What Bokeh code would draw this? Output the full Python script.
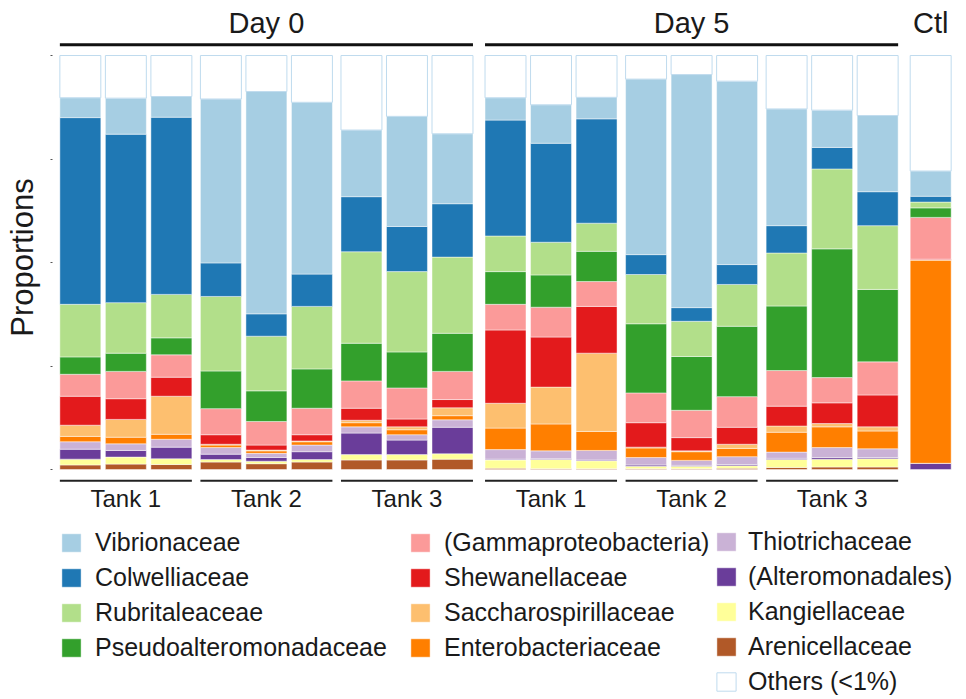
import math
from bokeh.plotting import figure
from bokeh.models import ColumnDataSource, FactorRange, Range1d, FixedTicker, Legend, LegendItem
from bokeh.core.properties import value
from bokeh.embed import file_html
from bokeh.resources import INLINE

# ---------------- data ----------------
days = ["Day 0", "Day 5"]
tanks = ["Tank 1", "Tank 2", "Tank 3"]
reps = ["1", "2", "3"]
control = "Ctl"

# stacking order: bottom -> top
families = ["Arenicellaceae", "Kangiellaceae", "(Alteromonadales)", "Thiotrichaceae",
            "Enterobacteriaceae", "Saccharospirillaceae", "Shewanellaceae",
            "(Gammaproteobacteria)", "Pseudoalteromonadaceae", "Rubritaleaceae",
            "Colwelliaceae", "Vibrionaceae", "Others (<1%)"]
fill_colors = ["#B15928", "#FFFF99", "#6A3D9A", "#CAB2D6", "#FF7F00", "#FDBF6F", "#E31A1C",
               "#FB9A99", "#33A02C", "#B2DF8A", "#1F78B4", "#A6CEE3", "#FFFFFF"]

# percentages, 19 samples: Day0 T1(3) T2(3) T3(3), Day5 T1(3) T2(3) T3(3), Ctl
arenicellaceae = [1.1, 1.3, 1.2, 1.8, 1.4, 1.8, 2.3, 2.3, 2.5, 0.3, 0.2, 0.2, 0.2, 0.2, 0.3, 0.5, 0.6, 0.6, 0.0]
kangiellaceae = [1.4, 1.7, 1.4, 0.6, 0.6, 0.6, 1.3, 1.3, 1.3, 2.0, 2.2, 1.9, 0.6, 0.6, 0.6, 1.9, 1.9, 2.0, 0.0]
alteromonadales = [2.4, 1.6, 2.8, 1.3, 0.9, 1.9, 5.2, 3.5, 6.4, 0.2, 0.2, 0.2, 0.3, 0.2, 0.3, 0.3, 0.4, 0.3, 1.5]
thiotrichaceae = [1.8, 1.6, 1.9, 1.6, 1.0, 1.6, 1.5, 1.3, 1.8, 2.3, 1.9, 2.3, 1.8, 1.2, 1.9, 1.5, 2.4, 2.1, 0.0]
enterobacteriaceae = [1.3, 1.6, 1.2, 0.6, 0.6, 0.8, 1.0, 1.2, 1.0, 5.2, 6.5, 4.6, 2.3, 2.1, 2.0, 4.8, 5.0, 4.3, 49.1]
saccharospirillaceae = [2.7, 4.3, 9.2, 0.2, 0.2, 0.2, 0.6, 0.7, 1.9, 6.0, 8.9, 18.9, 0.2, 0.2, 1.0, 1.5, 0.8, 1.0, 0.0]
shewanellaceae = [7.0, 5.0, 4.6, 2.3, 1.2, 1.5, 2.9, 1.9, 2.0, 17.7, 12.1, 11.3, 5.9, 3.2, 4.1, 4.8, 5.0, 7.7, 0.2]
gammaproteobacteria = [5.3, 6.6, 5.4, 6.3, 5.7, 6.4, 6.6, 7.5, 6.8, 6.2, 7.2, 6.0, 7.2, 6.6, 7.4, 8.6, 6.1, 8.0, 10.1]
pseudoalteromonadaceae = [4.2, 4.4, 4.1, 9.1, 7.4, 9.5, 9.1, 8.7, 9.2, 7.9, 7.8, 7.3, 16.7, 13.0, 17.0, 15.6, 31.1, 17.5, 2.3]
rubritaleaceae = [12.7, 12.2, 10.5, 18.0, 13.2, 15.1, 22.1, 19.4, 18.4, 8.6, 7.9, 6.8, 11.9, 8.5, 10.1, 12.8, 19.3, 15.4, 1.4]
colwelliaceae = [45.1, 40.7, 42.8, 8.1, 5.4, 7.8, 13.3, 10.9, 12.9, 28.0, 23.9, 25.2, 4.8, 3.3, 4.8, 6.6, 5.2, 8.2, 1.4]
vibrionaceae = [4.8, 8.7, 5.0, 39.6, 53.7, 41.5, 16.1, 26.6, 16.9, 5.4, 9.3, 5.2, 42.4, 56.3, 44.3, 28.2, 9.0, 18.4, 6.1]
others = [10.2, 10.3, 9.9, 10.5, 8.7, 11.3, 18.0, 14.7, 18.9, 10.2, 11.9, 10.1, 5.7, 4.6, 6.2, 12.9, 13.2, 14.5, 27.9]

series = [arenicellaceae, kangiellaceae, alteromonadales, thiotrichaceae, enterobacteriaceae,
          saccharospirillaceae, shewanellaceae, gammaproteobacteria, pseudoalteromonadaceae,
          rubritaleaceae, colwelliaceae, vibrionaceae, others]

y_ticks = [0, 25, 50, 75, 100]
y_label = "Proportions"

# legend columns (top -> bottom)
legend_cols = [
    ["Vibrionaceae", "Colwelliaceae", "Rubritaleaceae", "Pseudoalteromonadaceae"],
    ["(Gammaproteobacteria)", "Shewanellaceae", "Saccharospirillaceae", "Enterobacteriaceae"],
    ["Thiotrichaceae", "(Alteromonadales)", "Kangiellaceae", "Arenicellaceae", "Others (<1%)"],
]

# ---------------- figure ----------------
FONT = "Liberation Sans"
label_slot = (" ", " ", " ")          # empty slot on the left that holds the y-axis title
factors = [(d, t, r) for d in days for t in tanks for r in reps] + [(control, control, "1")]

data = {"x": factors}
for name, vals in zip(families, series):
    data[name] = vals
src = ColumnDataSource(data)

p = figure(width=966, height=699,
           x_range=FactorRange(*([label_slot] + factors), factor_padding=0.0,
                               subgroup_padding=0.088, group_padding=0.165,
                               range_padding=0.0892, range_padding_units="absolute"),
           y_range=Range1d(-55.56, 113.29),
           x_axis_location=None,
           output_backend="svg", toolbar_location=None,
           min_border_left=0, min_border_right=9, min_border_top=0, min_border_bottom=0)
p.grid.visible = False
p.outline_line_color = None
p.background_fill_color = "white"

line_colors = ["white"] * 12 + ["#BFDBEE"]
line_alphas = [0.45] * 12 + [1.0]
renderers = p.vbar_stack(families, x="x", width=0.9, source=src,
                         fill_color=fill_colors, line_color=line_colors,
                         line_alpha=line_alphas, line_width=1)
rmap = dict(zip(families, renderers))

# y axis: ticks only (drawn a little right of the frame edge)
p.yaxis.ticker = FixedTicker(ticks=y_ticks)
p.yaxis.axis_line_color = None
p.yaxis.major_tick_out = -50
p.yaxis.major_tick_in = 52
p.yaxis.major_tick_line_color = "#555555"
p.yaxis.minor_tick_line_color = None
p.yaxis.major_label_overrides = {t: "" for t in y_ticks}
p.yaxis.major_label_standoff = 0

# y-axis title
p.text(x=[label_slot + (-0.11,)], y=[51.2], text=[y_label], angle=math.pi / 2,
       text_align="center", text_baseline="middle", text_font=value(FONT),
       text_font_size="31px", text_color="#1a1a1a")

# Day strip labels and lines
day_src = ColumnDataSource(dict(
    x=days + [control],
    text=days + [control],
))
p.text(x="x", y=107.9, text="text", source=day_src, text_align="center",
       text_baseline="middle", text_font=value(FONT), text_font_size="29px",
       text_color="#1a1a1a")
day_line_src = ColumnDataSource(dict(
    x0=[(d, tanks[0], reps[0], -0.45) for d in days],
    x1=[(d, tanks[-1], reps[-1], 0.45) for d in days],
))
p.segment(x0="x0", y0=102.6, x1="x1", y1=102.6, source=day_line_src,
          line_width=3, line_color="#111111")

# Tank labels and lines
tank_src = ColumnDataSource(dict(
    x=[(d, t) for d in days for t in tanks],
    text=[t for d in days for t in tanks],
    x0=[(d, t, reps[0], -0.45) for d in days for t in tanks],
    x1=[(d, t, reps[-1], 0.45) for d in days for t in tanks],
))
p.segment(x0="x0", y0=-2.73, x1="x1", y1=-2.73, source=tank_src,
          line_width=2, line_color="#222222")
p.text(x="x", y=-6.98, text="text", source=tank_src, text_align="center",
       text_baseline="middle", text_font=value(FONT), text_font_size="24px",
       text_color="#1a1a1a")

# Legends: three columns
legend_specs = [((59, 37), 12), ((408, 37), 12), ((714, 3), 10)]
for col, (loc, standoff) in zip(legend_cols, legend_specs):
    leg = Legend(items=[LegendItem(label=n, renderers=[rmap[n]]) for n in col],
                 location=loc, orientation="vertical",
                 glyph_width=24, glyph_height=23, label_standoff=standoff, spacing=6,
                 padding=0, margin=0, border_line_color=None, background_fill_alpha=0,
                 label_text_font=FONT, label_text_font_size="25px",
                 label_text_color="#1a1a1a")
    p.add_layout(leg)

open("out.html", "w").write(file_html(p, INLINE))
